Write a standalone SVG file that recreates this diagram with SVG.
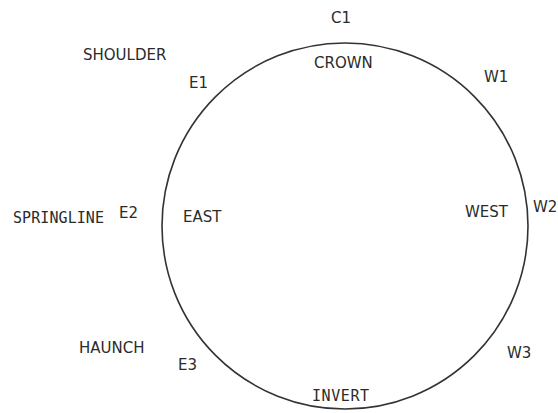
<svg xmlns="http://www.w3.org/2000/svg" width="558" height="413" viewBox="0 0 558 413">
  <style>
    .lbl { font-family: "DejaVu Sans", "Liberation Sans", sans-serif; font-size: 15px; fill: #2b2b2b; }
    .mono { font-family: "DejaVu Sans Mono", "Liberation Mono", monospace; font-size: 15px; fill: #2b2b2b; }
    .pipe { fill: none; stroke: #333333; stroke-width: 1.6; }
  </style>
  <rect width="558" height="413" fill="#ffffff"/>

  <!-- pipe cross-section -->
  <g id="pipe">
    <circle class="pipe" cx="345" cy="226" r="183"/>
  </g>

  <!-- zone names -->
  <g id="zones">
    <text class="lbl" x="83" y="60">SHOULDER</text>
    <text class="mono" x="13" y="223" textLength="91">SPRINGLINE</text>
    <text class="lbl" x="79" y="353">HAUNCH</text>
  </g>

  <!-- labels inside the pipe -->
  <g id="sides">
    <text class="lbl" x="314" y="68">CROWN</text>
    <text class="lbl" x="183" y="222">EAST</text>
    <text class="lbl" x="465" y="217">WEST</text>
    <text class="mono" x="312" y="401" textLength="57">INVERT</text>
  </g>

  <!-- measurement points -->
  <g id="points">
    <text class="lbl" x="331" y="23">C1</text>
    <text class="lbl" x="189" y="88">E1</text>
    <text class="lbl" x="119" y="218">E2</text>
    <text class="lbl" x="178" y="370">E3</text>
    <text class="lbl" x="484" y="82">W1</text>
    <text class="lbl" x="533" y="212">W2</text>
    <text class="lbl" x="507" y="358">W3</text>
  </g>
</svg>
